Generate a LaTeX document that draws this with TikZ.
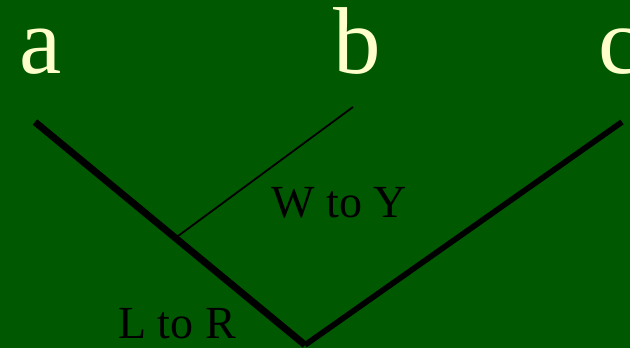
\documentclass[tikz,border=0pt]{standalone}
\usepackage{fontspec}
\setmainfont{Liberation Serif}
\usetikzlibrary{calc}
\usepackage{xcolor}
\definecolor{bgGreen}{HTML}{005800}
\definecolor{lblCream}{HTML}{FFFFCC}
\begin{document}
\begin{tikzpicture}[x=1pt,y=-1pt,
      leaf/.style={text=lblCream,anchor=base,inner sep=0pt,font=\fontsize{95}{95}\selectfont},
      tag/.style={text=black,anchor=base,inner sep=0pt,font=\fontsize{46}{46}\selectfont},
      arm/.style={line width=7pt,black},
      twig/.style={line width=1.8pt,black}]
    \fill[bgGreen] (0,0) rectangle (630,348);
    \useasboundingbox (0,0) rectangle (630,348);
    \node[leaf] (a) at (41,73)  {a};
    \node[leaf] (b) at (357,73) {b};
    \node[leaf] (c) at (620,73) {c};
    \coordinate (aEnd) at (35,122);
    \coordinate (root) at (305,345);
    \coordinate (cEnd) at (622,122);
    \coordinate (bEnd) at (353,107);
    \coordinate (fork) at ($(aEnd)!0.52!(root)$);
    \node[tag] (wy) at (339,217) {W to Y};
    \node[tag] (lr) at (177,338) {L to R};
    \draw[arm] (aEnd) -- (root);
    \draw[arm,line width=5.7pt] (root) -- (cEnd);
    \draw[twig] (fork) -- (bEnd);
  \end{tikzpicture}
\end{document}
